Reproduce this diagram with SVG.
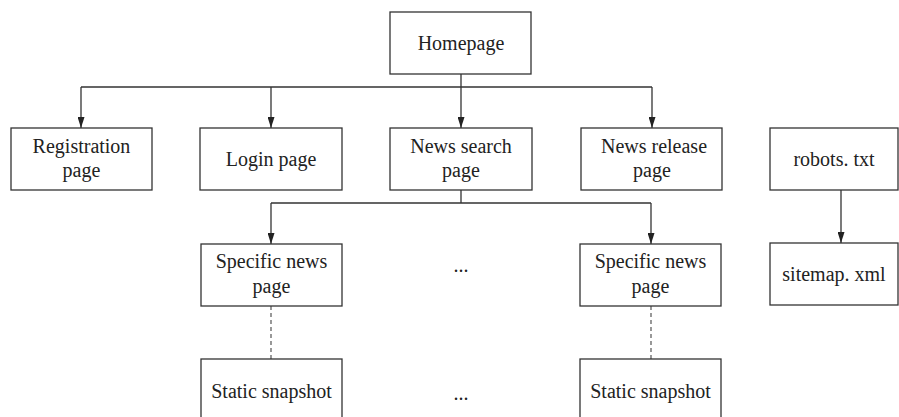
<svg xmlns="http://www.w3.org/2000/svg" width="899" height="417" viewBox="0 0 899 417">
<style>
.box{fill:#fff;stroke:#333;stroke-width:1.3}
.t{font-family:"Liberation Serif","Times New Roman",serif;font-size:20px;fill:#222;text-anchor:middle}
.ln{fill:none;stroke:#333;stroke-width:1.3}
.dash{fill:none;stroke:#555;stroke-width:1.2;stroke-dasharray:4 3}
</style>
<defs>
<marker id="ah" viewBox="0 0 10 10" refX="10" refY="5" markerWidth="11" markerHeight="7" markerUnits="userSpaceOnUse" orient="auto" preserveAspectRatio="none">
<path d="M0,0 L10,5 L0,10 Z" fill="#222"/>
</marker>
</defs>
<rect width="899" height="417" fill="#fff"/>
<g id="connectors">
<path class="ln" d="M461,74 V87 M81,87 H652"/>
<path class="ln" d="M81,87 V128" marker-end="url(#ah)"/>
<path class="ln" d="M271,87 V128" marker-end="url(#ah)"/>
<path class="ln" d="M461,87 V128" marker-end="url(#ah)"/>
<path class="ln" d="M652,87 V128" marker-end="url(#ah)"/>
<path class="ln" d="M461,190 V203 M271,203 H651"/>
<path class="ln" d="M271,203 V244" marker-end="url(#ah)"/>
<path class="ln" d="M651,203 V244" marker-end="url(#ah)"/>
<path class="ln" d="M841,190 V243" marker-end="url(#ah)"/>
<path class="dash" d="M271,306 V359"/>
<path class="dash" d="M651,306 V359"/>
</g>
<g id="homepage"><rect class="box" x="390" y="12" width="141" height="62"/><text class="t" x="461" y="50">Homepage</text></g>
<g id="registration"><rect class="box" x="11" y="128" width="141" height="62"/><text class="t" x="81.5" y="153">Registration</text><text class="t" x="81.5" y="177">page</text></g>
<g id="login"><rect class="box" x="200" y="128" width="142" height="62"/><text class="t" x="271" y="166">Login page</text></g>
<g id="newssearch"><rect class="box" x="390" y="128" width="142" height="62"/><text class="t" x="461" y="153">News search</text><text class="t" x="461" y="177">page</text></g>
<g id="newsrelease"><rect class="box" x="581" y="128" width="141" height="62"/><text class="t" x="654" y="153">News release</text><text class="t" x="652" y="177">page</text></g>
<g id="robots"><rect class="box" x="770" y="128" width="128" height="62"/><text class="t" x="834" y="166">robots. txt</text></g>
<g id="specific1"><rect class="box" x="201" y="244" width="141" height="62"/><text class="t" x="271.5" y="268">Specific news</text><text class="t" x="271.5" y="293">page</text></g>
<g id="ellipsis1"><text class="t" x="461" y="272">...</text></g>
<g id="specific2"><rect class="box" x="580" y="244" width="141" height="62"/><text class="t" x="650.5" y="268">Specific news</text><text class="t" x="650.5" y="293">page</text></g>
<g id="sitemap"><rect class="box" x="770" y="243" width="128" height="62"/><text class="t" x="834" y="281">sitemap. xml</text></g>
<g id="snapshot1"><rect class="box" x="201" y="359" width="141" height="62"/><text class="t" x="271.5" y="398">Static snapshot</text></g>
<g id="ellipsis2"><text class="t" x="461" y="400">...</text></g>
<g id="snapshot2"><rect class="box" x="580" y="359" width="141" height="62"/><text class="t" x="650.5" y="398">Static snapshot</text></g>
</svg>
